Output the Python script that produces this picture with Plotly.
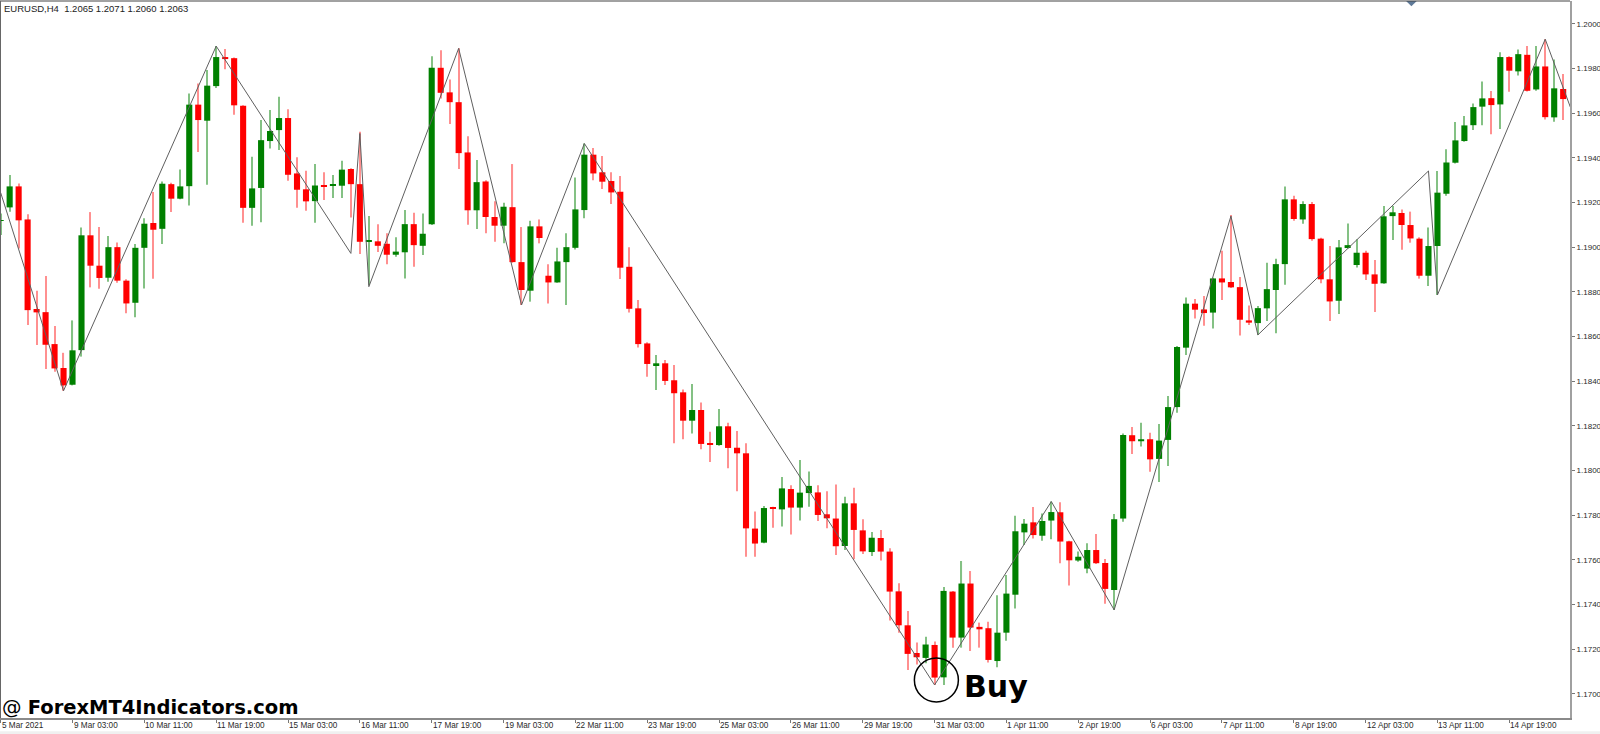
""" EURUSD H4 candlestick chart with zigzag line and a buy signal, MT4 look. """

import plotly.graph_objects as go  # plotly for graphing

# candle data, one entry per bar
opens = [
    1.19118, 1.19178, 1.19272, 1.19124, 1.18723, 1.18709, 1.18566, 1.18459, 1.18384, 1.18539,
    1.19053, 1.18917, 1.18863, 1.19000, 1.18850, 1.18751, 1.18997, 1.19108, 1.19082, 1.19282,
    1.19217, 1.19273, 1.19638, 1.19566, 1.19721, 1.19851, 1.19846, 1.19633, 1.19176, 1.19265,
    1.19475, 1.19524, 1.19578, 1.19330, 1.19259, 1.19206, 1.19276, 1.19276, 1.19275, 1.19350,
    1.19282, 1.19026, 1.19026, 1.19015, 1.18966, 1.18977, 1.19103, 1.19006, 1.19102, 1.19803,
    1.19693, 1.19649, 1.19424, 1.19165, 1.19294, 1.19135, 1.19096, 1.19179, 1.18933, 1.18805,
    1.19093, 1.18872, 1.18842, 1.18933, 1.18997, 1.19166, 1.19414, 1.19335, 1.19296, 1.19248,
    1.18912, 1.18726, 1.18569, 1.18472, 1.18480, 1.18404, 1.18350, 1.18223, 1.18271, 1.18122,
    1.18114, 1.18198, 1.18102, 1.18077, 1.17740, 1.17677, 1.17834, 1.17826, 1.17917, 1.17834,
    1.17899, 1.17902, 1.17804, 1.17785, 1.17662, 1.17853, 1.17732, 1.17635, 1.17698, 1.17637,
    1.17459, 1.17307, 1.17183, 1.17161, 1.17219, 1.17074, 1.17458, 1.17252, 1.17494, 1.17300,
    1.17294, 1.17147, 1.17274, 1.17444, 1.17723, 1.17768, 1.17708, 1.17776, 1.17813, 1.17683,
    1.17597, 1.17561, 1.17644, 1.17586, 1.17465, 1.17785, 1.18158, 1.18131, 1.18140, 1.18052,
    1.18137, 1.18284, 1.18550, 1.18747, 1.18721, 1.18707, 1.18860, 1.18844, 1.18821, 1.18672,
    1.18660, 1.18726, 1.18808, 1.18924, 1.19214, 1.19124, 1.19193, 1.19038, 1.18856, 1.18760,
    1.18996, 1.18920, 1.18975, 1.18878, 1.18838, 1.19139, 1.19153, 1.19099, 1.19038, 1.18872,
    1.19005, 1.19239, 1.19378, 1.19475, 1.19546, 1.19629, 1.19667, 1.19639, 1.19851, 1.19787,
    1.19861, 1.19706, 1.19809, 1.19581, 1.19708,
]
highs = [
    1.19151, 1.19323, 1.19285, 1.19147, 1.18805, 1.18871, 1.18647, 1.18527, 1.18672, 1.19088,
    1.19157, 1.19090, 1.19050, 1.19021, 1.18856, 1.19014, 1.19129, 1.19247, 1.19294, 1.19288,
    1.19348, 1.19688, 1.19733, 1.19793, 1.19900, 1.19887, 1.19849, 1.19635, 1.19405, 1.19569,
    1.19614, 1.19673, 1.19617, 1.19402, 1.19342, 1.19372, 1.19335, 1.19323, 1.19387, 1.19353,
    1.19517, 1.19139, 1.19103, 1.19062, 1.19044, 1.19166, 1.19154, 1.19151, 1.19855, 1.19882,
    1.19751, 1.19890, 1.19497, 1.19390, 1.19300, 1.19206, 1.19199, 1.19372, 1.19090, 1.19118,
    1.19124, 1.18923, 1.18997, 1.19062, 1.19312, 1.19464, 1.19444, 1.19408, 1.19335, 1.19318,
    1.18999, 1.18763, 1.18574, 1.18517, 1.18495, 1.18472, 1.18363, 1.18387, 1.18305, 1.18174,
    1.18275, 1.18214, 1.18177, 1.18122, 1.17816, 1.17841, 1.17838, 1.17971, 1.17934, 1.18047,
    1.17996, 1.17934, 1.17907, 1.17937, 1.17883, 1.17923, 1.17782, 1.17725, 1.17734, 1.17652,
    1.17495, 1.17371, 1.17230, 1.17256, 1.17235, 1.17479, 1.17461, 1.17595, 1.17550, 1.17319,
    1.17323, 1.17441, 1.17532, 1.17798, 1.17783, 1.17837, 1.17808, 1.17861, 1.17858, 1.17686,
    1.17637, 1.17674, 1.17716, 1.17604, 1.17805, 1.18166, 1.18195, 1.18214, 1.18169, 1.18208,
    1.18334, 1.18557, 1.18775, 1.18768, 1.18781, 1.18863, 1.18984, 1.19144, 1.18866, 1.18739,
    1.18736, 1.18930, 1.18948, 1.19272, 1.19230, 1.19205, 1.19202, 1.19042, 1.19005, 1.19032,
    1.19106, 1.19035, 1.18984, 1.18942, 1.19184, 1.19184, 1.19169, 1.19159, 1.19044, 1.19088,
    1.19341, 1.19438, 1.19560, 1.19587, 1.19643, 1.19742, 1.19699, 1.19873, 1.19855, 1.19885,
    1.19900, 1.19900, 1.19931, 1.19840, 1.19775,
]
lows = [
    1.19054, 1.19159, 1.18994, 1.18651, 1.18562, 1.18454, 1.18442, 1.18357, 1.18381, 1.18510,
    1.18820, 1.18814, 1.18845, 1.18841, 1.18704, 1.18686, 1.18815, 1.18859, 1.19014, 1.19157,
    1.19214, 1.19187, 1.19426, 1.19279, 1.19712, 1.19796, 1.19593, 1.19109, 1.19096, 1.19111,
    1.19442, 1.19435, 1.19297, 1.19176, 1.19163, 1.19109, 1.19211, 1.19220, 1.19220, 1.19133,
    1.18969, 1.18830, 1.18978, 1.18923, 1.18957, 1.18860, 1.18912, 1.18965, 1.19099, 1.19666,
    1.19551, 1.19350, 1.19100, 1.19081, 1.19062, 1.19024, 1.19017, 1.18930, 1.18741, 1.18756,
    1.19017, 1.18748, 1.18841, 1.18741, 1.18990, 1.19129, 1.19300, 1.19260, 1.19193, 1.18857,
    1.18707, 1.18551, 1.18420, 1.18360, 1.18383, 1.18122, 1.18140, 1.18166, 1.18095, 1.18038,
    1.18111, 1.18010, 1.17907, 1.17614, 1.17614, 1.17674, 1.17744, 1.17749, 1.17713, 1.17776,
    1.17838, 1.17774, 1.17741, 1.17622, 1.17644, 1.17603, 1.17626, 1.17617, 1.17597, 1.17328,
    1.17274, 1.17107, 1.17131, 1.17137, 1.17040, 1.17040, 1.17207, 1.17207, 1.17192, 1.17207,
    1.17140, 1.17119, 1.17238, 1.17382, 1.17667, 1.17696, 1.17686, 1.17692, 1.17585, 1.17485,
    1.17592, 1.17540, 1.17582, 1.17403, 1.17376, 1.17771, 1.18074, 1.18107, 1.17995, 1.17949,
    1.18020, 1.18259, 1.18517, 1.18680, 1.18648, 1.18636, 1.18763, 1.18817, 1.18605, 1.18651,
    1.18607, 1.18669, 1.18614, 1.18832, 1.19118, 1.19105, 1.19029, 1.18838, 1.18669, 1.18701,
    1.18994, 1.18909, 1.18853, 1.18710, 1.18836, 1.19032, 1.18988, 1.19020, 1.18859, 1.18826,
    1.18786, 1.19230, 1.19375, 1.19472, 1.19524, 1.19546, 1.19506, 1.19529, 1.19696, 1.19769,
    1.19697, 1.19700, 1.19572, 1.19561, 1.19569,
]
closes = [
    1.19121, 1.19272, 1.19120, 1.18718, 1.18708, 1.18563, 1.18457, 1.18381, 1.18538, 1.19053,
    1.18917, 1.18862, 1.19000, 1.18850, 1.18748, 1.18997, 1.19105, 1.19078, 1.19284, 1.19217,
    1.19272, 1.19638, 1.19569, 1.19723, 1.19851, 1.19842, 1.19635, 1.19176, 1.19263, 1.19479,
    1.19520, 1.19578, 1.19324, 1.19257, 1.19205, 1.19276, 1.19270, 1.19279, 1.19347, 1.19282,
    1.19024, 1.19029, 1.19006, 1.18966, 1.18980, 1.19103, 1.19009, 1.19060, 1.19803, 1.19691,
    1.19649, 1.19421, 1.19165, 1.19291, 1.19135, 1.19096, 1.19181, 1.18933, 1.18808, 1.19093,
    1.19041, 1.18842, 1.18936, 1.19000, 1.19169, 1.19414, 1.19330, 1.19293, 1.19245, 1.18908,
    1.18724, 1.18566, 1.18477, 1.18480, 1.18401, 1.18346, 1.18223, 1.18271, 1.18119, 1.18116,
    1.18198, 1.18101, 1.18077, 1.17741, 1.17673, 1.17832, 1.17828, 1.17920, 1.17834, 1.17901,
    1.17931, 1.17801, 1.17786, 1.17661, 1.17853, 1.17734, 1.17638, 1.17699, 1.17637, 1.17458,
    1.17307, 1.17179, 1.17164, 1.17221, 1.17073, 1.17461, 1.17252, 1.17494, 1.17297, 1.17289,
    1.17152, 1.17274, 1.17449, 1.17728, 1.17762, 1.17711, 1.17774, 1.17814, 1.17682, 1.17598,
    1.17614, 1.17644, 1.17585, 1.17470, 1.17782, 1.18159, 1.18131, 1.18140, 1.18050, 1.18134,
    1.18284, 1.18553, 1.18747, 1.18720, 1.18705, 1.18860, 1.18842, 1.18820, 1.18675, 1.18662,
    1.18727, 1.18812, 1.18924, 1.19214, 1.19126, 1.19193, 1.19036, 1.18856, 1.18757, 1.18999,
    1.19009, 1.18975, 1.18878, 1.18836, 1.19138, 1.19156, 1.19099, 1.19039, 1.18872, 1.19005,
    1.19244, 1.19379, 1.19478, 1.19545, 1.19627, 1.19666, 1.19636, 1.19851, 1.19790, 1.19864,
    1.19700, 1.19809, 1.19582, 1.19711, 1.19663,
]

# zigzag turning points: bar number and price
zigzag_bars = [0, 7, 24, 39, 40, 41, 51, 58, 65, 104, 117, 124, 137, 140, 159, 160, 172, 175]
zigzag_prices = [
    1.19244, 1.18357, 1.19900, 1.18972, 1.19509, 1.18823, 1.19890, 1.18741, 1.19464,
    1.17040, 1.17861, 1.17376, 1.19139, 1.18607, 1.19341, 1.18786, 1.19931, 1.19605,
]

# time axis labels sit every 8 bars
time_labels = [
    "5 Mar 2021", "9 Mar 03:00", "10 Mar 11:00", "11 Mar 19:00", "15 Mar 03:00", "16 Mar 11:00",
    "17 Mar 19:00", "19 Mar 03:00", "22 Mar 11:00", "23 Mar 19:00", "25 Mar 03:00", "26 Mar 11:00",
    "29 Mar 19:00", "31 Mar 03:00", "1 Apr 11:00", "2 Apr 19:00", "6 Apr 03:00", "7 Apr 11:00",
    "8 Apr 19:00", "12 Apr 03:00", "13 Apr 11:00", "14 Apr 19:00",
]
price_ticks = [1.17, 1.172, 1.174, 1.176, 1.178, 1.18, 1.182, 1.184, 1.186, 1.188,
               1.19, 1.192, 1.194, 1.196, 1.198, 1.2]

# buy signal circle, and the small chart shift mark at the top
signal_bar = [104.2]
signal_price = [1.17062]
shift_bar = [157.1]
shift_price = [1.2011]

bars = list(range(len(opens)))
time_ticks = [i * 8 for i in range(len(time_labels))]

is_up = [c >= o for o, c in zip(opens, closes)]
body_colors = ["#008000" if up else "#ff0000" for up in is_up]
wick_colors = ["#84c184" if up else "#ff9090" for up in is_up]

# wicks first so the bodies cover them, zigzag goes over everything
wicks = go.Bar(
    x=bars,
    y=[h - l for h, l in zip(highs, lows)],
    base=lows,
    width=0.12,
    marker=dict(color=wick_colors, line_width=0),
)
bodies = go.Bar(
    x=bars,
    y=[abs(c - o) for o, c in zip(opens, closes)],
    base=[min(o, c) for o, c in zip(opens, closes)],
    width=0.68,
    marker=dict(color=body_colors, line_width=0),
)
zigzag = go.Scatter(
    x=zigzag_bars,
    y=zigzag_prices,
    mode="lines",
    line=dict(color="#5f5f5f", width=1),
)
signal = go.Scatter(
    x=signal_bar,
    y=signal_price,
    mode="markers",
    marker=dict(symbol="circle-open", size=44, color="#000000", line=dict(color="#000000", width=1.5)),
)
shift_mark = go.Scatter(
    x=shift_bar,
    y=shift_price,
    mode="markers",
    marker=dict(symbol="diamond", size=11, color="#5f7a99"),
)

fig = go.Figure(data=[wicks, bodies, zigzag, signal, shift_mark])

# labels at the right of each tick like the terminal does
annotations = [
    dict(x=t, y=-0.0015, xref="x", yref="paper", text=label, showarrow=False,
         xanchor="left", yanchor="top", xshift=-1,
         font=dict(family="Liberation Sans", size=8.2, color="#2a2a2a"))
    for t, label in zip(time_ticks, time_labels)
]
annotations.append(dict(
    x=0, y=1, xref="paper", yref="paper", xanchor="left", yanchor="top", xshift=2, yshift=0,
    text="EURUSD,H4&nbsp;&nbsp;1.2065 1.2071 1.2060 1.2063", showarrow=False,
    font=dict(family="Liberation Sans", size=9.5, color="#222222"),
))
annotations.append(dict(
    x=107.1, y=1.17032, xref="x", yref="y", xanchor="left", yanchor="middle",
    text="<b>Buy</b>", showarrow=False,
    font=dict(family="DejaVu Sans", size=30, color="#000000"),
))
annotations.append(dict(
    x=0, y=0, xref="paper", yref="paper", xanchor="left", yanchor="bottom", xshift=0, yshift=-3,
    text="@ <b>ForexMT4Indicators.com</b>", showarrow=False,
    font=dict(family="DejaVu Sans", size=19.5, color="#000000"),
))

fig.update_layout(
    width=1600,
    height=734,
    margin=dict(l=0, r=30, t=1, b=16),
    paper_bgcolor="#ffffff",
    plot_bgcolor="#ffffff",
    barmode="overlay",
    showlegend=False,
    annotations=annotations,
    xaxis=dict(
        range=[-0.075, 174.76],
        automargin=False,
        tickmode="array",
        tickvals=time_ticks,
        ticktext=[""] * len(time_ticks),
        ticks="outside",
        ticklen=3,
        tickcolor="#777777",
        showgrid=False,
        zeroline=False,
        showline=True,
        linecolor="#8a8a8a",
        linewidth=2,
    ),
    yaxis=dict(
        side="right",
        range=[1.16892, 1.20102],
        automargin=False,
        tickmode="array",
        tickvals=price_ticks,
        tickformat=".4f",
        ticks="outside",
        ticklen=3,
        tickcolor="#777777",
        tickfont=dict(family="Liberation Sans", size=8, color="#2a2a2a"),
        showgrid=False,
        zeroline=False,
        showline=True,
        linecolor="#a0a0a0",
        linewidth=2,
    ),
    shapes=[
        dict(type="line", xref="paper", yref="paper", x0=0, x1=1, y0=1, y1=1,
             line=dict(color="#444444", width=1)),
        dict(type="line", xref="paper", yref="paper", x0=0, x1=0, y0=0, y1=1,
             line=dict(color="#666666", width=2)),
        # pale strip along the bottom of the window
        dict(type="rect", xref="paper", yref="paper", x0=0, x1=1.02, y0=-0.0225, y1=-0.0185,
             fillcolor="#f0f0f0", line_width=0),
    ],
)

# the page body keeps its default margin otherwise and pushes the chart off the window
fig.write_html("out.html", post_script="document.body.style.margin = '0';",
               config=dict(displayModeBar=False))
